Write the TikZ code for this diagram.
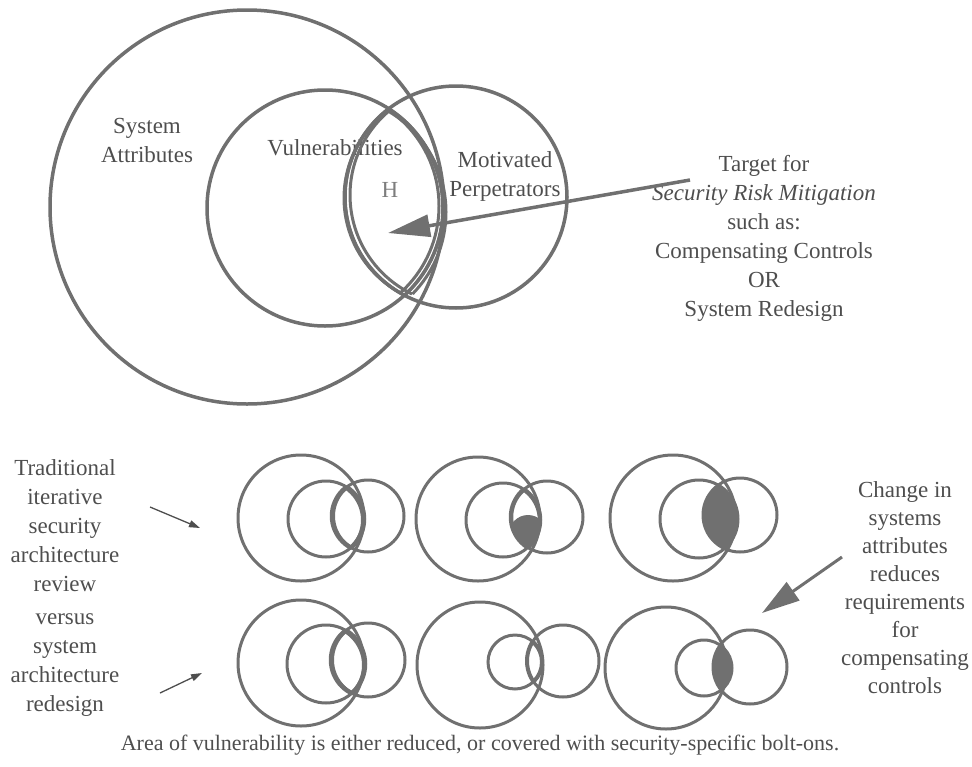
\documentclass[tikz,border=0pt]{standalone}
\usepackage{fontspec}
\setmainfont{Liberation Serif}
\usetikzlibrary{arrows.meta}

\definecolor{ringgray}{RGB}{112,112,112}
\definecolor{textgray}{RGB}{78,78,78}
\definecolor{hgray}{RGB}{125,125,125}

% lens outline: vuln centre, radius, perpetrator centre, radius, style
\newcommand{\lensline}[5]{%
  \begin{scope}\clip #1 circle (#2); \draw[#5] #3 circle (#4);\end{scope}
  \begin{scope}\clip #3 circle (#4); \draw[#5] #1 circle (#2);\end{scope}}
% filled part of a lens
\newcommand{\lensfill}[4]{%
  \begin{scope}\clip #1 circle (#2); \fill[ringgray] #3 circle (#4);\end{scope}}

\tikzset{
  ring/.style={circle, draw=ringgray, line width=3pt, inner sep=0pt, outer sep=0pt, minimum size=#1},
  lens/.style={draw=ringgray, line width=3pt},
  words/.style={text=textgray, align=center, inner sep=0pt, font=\fontsize{23}{29}\selectfont},
}

\begin{document}
\begin{tikzpicture}[x=1pt, y=-1pt]
    \useasboundingbox (0,0) rectangle (972,766);

    % big picture
    \node[ring=394pt, line width=3.5pt] (sys) at (247,207) {};
    \node[ring=236pt, line width=3.5pt] (vul) at (325,208) {};
    \node[ring=222pt, line width=3.5pt] (mot) at (456,197) {};

    \node[words] (sysname) at (147,140) {System\\Attributes};
    \node[words] (vulname) at (335,148) {Vulnerabilities};
    \node[words] (motname) at (505,176) {Motivated\\Perpetrators};
    \node[words, text=hgray] (h) at (390,190) {H};

    \lensline{(vul.center)}{118}{(mot.center)}{111}{lens}
    \lensline{(322,206)}{117}{(452,198)}{108}{lens}
    \lensline{(329,212)}{117}{(460,195)}{110}{lens}

    \node[words] (target) at (764,238) {Target for\\\textit{Security Risk Mitigation}\\such as:\\Compensating Controls\\OR\\System Redesign};
    \coordinate (target tail) at (690,180);
    \coordinate (h tip) at (388,233);
    \draw[draw=ringgray, line width=3.5pt, -{Triangle[length=42pt, width=22pt]}] (target tail) -- (h tip);

    % small pictures, first row
    \node[ring=126pt] (sys11) at (301,518) {};
    \node[ring=76pt] (vul11) at (326,519) {};
    \node[ring=72pt] (mot11) at (368,516) {};
    \lensline{(vul11.center)}{38}{(mot11.center)}{36}{lens, line width=4.5pt}
    \lensline{(324,520)}{38}{(370,516)}{36}{lens, line width=2pt}

    \node[ring=124pt] (sys12) at (478,519) {};
    \node[ring=74pt] (vul12) at (503,520) {};
    \node[ring=72pt] (mot12) at (547,517) {};
    \lensline{(vul12.center)}{37}{(mot12.center)}{36}{lens, line width=4.5pt}
    \begin{scope}
        \clip (vul12.center) circle (37);
        \lensfill{(mot12.center)}{36}{(528,534)}{19}
    \end{scope}

    \node[ring=126pt] (sys13) at (673,518) {};
    \node[ring=78pt] (vul13) at (699,519) {};
    \node[ring=74pt] (mot13) at (740,515) {};
    \lensfill{(vul13.center)}{39}{(mot13.center)}{37}

    % small pictures, second row
    \node[ring=126pt] (sys21) at (301,663) {};
    \node[ring=78pt] (vul21) at (326,664) {};
    \node[ring=74pt] (mot21) at (368,660) {};
    \lensline{(vul21.center)}{39}{(mot21.center)}{37}{lens, line width=4.5pt}
    \lensline{(324,665)}{39}{(370,660)}{37}{lens, line width=2pt}

    \node[ring=126pt] (sys22) at (480,665) {};
    \node[ring=54pt] (vul22) at (515,662) {};
    \node[ring=72pt] (mot22) at (563,661) {};
    \lensline{(vul22.center)}{27}{(mot22.center)}{36}{lens, line width=4pt}

    \node[ring=122pt] (sys23) at (666,668) {};
    \node[ring=56pt] (vul23) at (704,668) {};
    \node[ring=74pt] (mot23) at (750,667) {};
    \lensfill{(vul23.center)}{28}{(mot23.center)}{37}

    % side texts
    \node[words] (review) at (65,526) {Traditional\\iterative\\security\\architecture\\review};
    \node[words] (redesign) at (65,665) {versus\\system\\architecture\\redesign};
    \node[words, font=\fontsize{23}{28}\selectfont] (change) at (905,588) {Change in\\systems\\attributes\\reduces\\requirements\\for\\compensating\\controls};

    \coordinate (review tail) at (150,507);
    \coordinate (review tip) at (200,528);
    \coordinate (redesign tail) at (160,693);
    \coordinate (redesign tip) at (202,673);
    \coordinate (change tail) at (842,557);
    \coordinate (change tip) at (762,613);
    \draw[draw=textgray, line width=1.3pt, -{Triangle[length=11pt, width=7pt]}] (review tail) -- (review tip);
    \draw[draw=textgray, line width=1.3pt, -{Triangle[length=11pt, width=7pt]}] (redesign tail) -- (redesign tip);
    \draw[draw=ringgray, line width=3pt, -{Triangle[length=38pt, width=22pt]}] (change tail) -- (change tip);

    \node[words, font=\fontsize{22}{26}\selectfont] (caption) at (480,745) {Area of vulnerability is either reduced, or covered with security-specific bolt-ons.};
\end{tikzpicture}
\end{document}
